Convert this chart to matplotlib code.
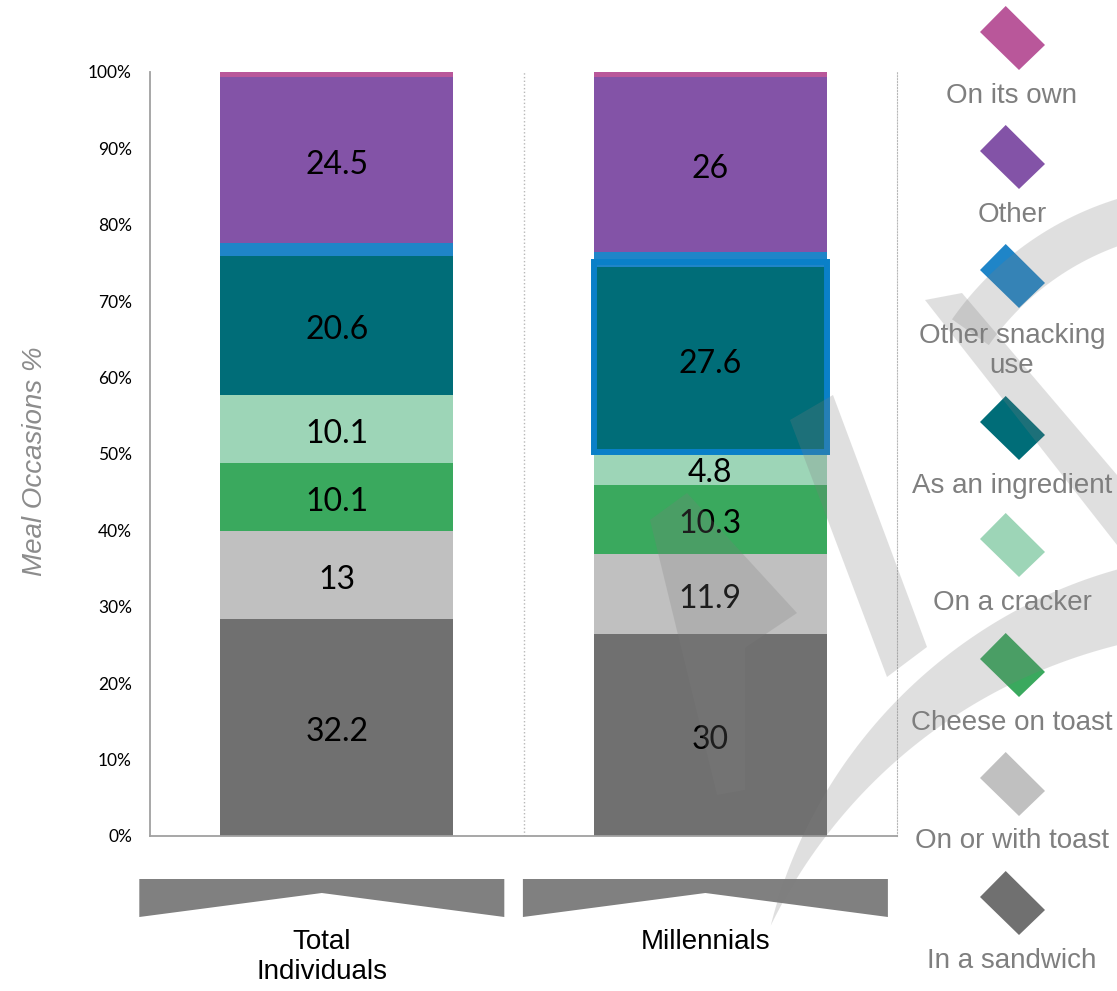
import numpy as np
import matplotlib
matplotlib.use('Agg')
import matplotlib.pyplot as plt
from matplotlib.patches import Polygon, Rectangle

W, H = 1117, 991

groups = ['Total\nIndividuals', 'Millennials']
uses = ['In a sandwich', 'On or with toast', 'Cheese on toast', 'On a cracker',
        'As an ingredient', 'Other snacking use', 'Other', 'On its own']
legend_names = ['In a sandwich', 'On or with toast', 'Cheese on toast', 'On a cracker',
                'As an ingredient', 'Other snacking\nuse', 'Other', 'On its own']
total_vals = [32.2, 13, 10.1, 10.1, 20.6, 2.0, 24.5, 0.8]
millennial_vals = [30, 11.9, 10.3, 4.8, 27.6, 2.1, 26, 0.8]
show_value = [True, True, True, True, True, False, True, False]
colors = ['#707070', '#c0c0c0', '#3aa95e', '#9dd5b7', '#006d78', '#1f85c8', '#8353a7', '#b9579a']
highlight = (1, 'As an ingredient')


def fig_xy(px, py):
    # pixel position measured from the top-left corner -> figure fraction
    return (px / W, 1 - py / H)


fig = plt.figure(figsize=(W / 100, H / 100), dpi=100)
ax = fig.add_axes([150 / W, 1 - 836 / H, 747 / W, 764 / H])

vals = np.array([total_vals, millennial_vals], dtype=float)
shares = vals / vals.sum(axis=1, keepdims=True) * 100
x = np.arange(len(groups))
bw = 0.625
bottom = np.zeros(len(groups))
for j, use in enumerate(uses):
    ax.bar(x, shares[:, j], bw, bottom=bottom, color=colors[j], zorder=2)
    for i in range(len(groups)):
        if show_value[j]:
            ax.text(x[i], bottom[i] + shares[i, j] / 2 - 0.6, f'{vals[i, j]:g}',
                    ha='center', va='center', fontsize=23, family='Lato',
                    color='black', zorder=3)
        if (i, use) == highlight:
            ax.add_patch(Rectangle((x[i] - bw / 2, bottom[i]), bw, shares[i, j] + 0.6,
                                   fill=False, ec='#0a80c8', lw=4.3, zorder=4))
    bottom += shares[:, j]

ax.set_xlim(-0.5, 1.5)
ax.set_ylim(0, 100)
ax.set_xticks([])
ax.set_yticks(np.arange(0, 101, 10))
ax.set_yticklabels([f'{v}%' for v in range(0, 101, 10)], family='Lato', fontsize=12.5)
ax.tick_params(axis='y', length=0, pad=13)
ax.spines['top'].set_visible(False)
for s in ['left', 'bottom']:
    ax.spines[s].set_color('#a0a0a0')
    ax.spines[s].set_linewidth(1.3)
ax.spines['right'].set_linestyle(':')
ax.spines['right'].set_color('#b8b8b8')
ax.axvline(0.5, ls=':', color='#b8b8b8', lw=1, zorder=1)

fig.text(*fig_xy(35, 461), 'Meal Occasions %', rotation=90, style='italic',
         color='#8c8c8c', fontsize=20, ha='center', va='center', family='Liberation Sans')

# group banners under the axis
banner_x = [-0.04, 0.987]
for i, g in enumerate(groups):
    cx = ax.transData.transform((banner_x[i], 0))[0]
    pts = [(cx - 182.5, 879), (cx + 182.5, 879), (cx + 182.5, 917), (cx, 893), (cx - 182.5, 917)]
    fig.add_artist(Polygon([fig_xy(*p) for p in pts], closed=True, fc='#808080', ec='none'))
    fig.text(*fig_xy(cx, 929), g, ha='center', va='top', fontsize=20,
             family='Liberation Sans', linespacing=1.2)

# legend: diamonds with captions, top entry is the top segment
diamond = np.array([(-6.8, -32), (32.5, 7), (6.5, 32), (-32.5, -6)])
diamond_y = [903, 784, 665, 545, 428, 276, 157, 38]
caption_y = [961, 841, 723, 603, 486, 351, 215, 96]
for j in range(len(uses)):
    pts = diamond + (1012.5, diamond_y[j])
    fig.add_artist(Polygon([fig_xy(*p) for p in pts], closed=True, fc=colors[j], ec='none', zorder=5))
    fig.text(*fig_xy(1012, caption_y[j]), legend_names[j], ha='center', va='center',
             fontsize=20, color='#7f7f7f', family='Liberation Sans', linespacing=1.2)

# faint logo in the background
wm = dict(closed=True, fc='#7d7d7d', ec='none', alpha=0.24, zorder=10)
t = np.linspace(0, 1, 80)
a = np.radians(np.linspace(-100, -160, 80))
w = 75 * (1 - t ** 1.5)
outer = np.c_[1250 + (510 + w / 2) * np.cos(a), 1100 + (510 + w / 2) * np.sin(a)]
inner = np.c_[1250 + (510 - w / 2) * np.cos(a), 1100 + (510 - w / 2) * np.sin(a)]
shapes = [np.vstack([outer, inner[::-1]])]
a = np.radians(np.linspace(-70, -145, 60))
outer = np.c_[1210 + 315 * np.cos(a), 500 + 315 * np.sin(a)]
inner = np.c_[1210 + 270 * np.cos(a), 500 + 270 * np.sin(a)]
shapes.append(np.vstack([outer, inner[::-1]]))
shapes.append(np.array([(925, 300), (962, 293), (1117, 475), (1117, 545)]))
shapes.append(np.array([(790, 420), (833, 395), (927, 647), (887, 677)]))
shapes.append(np.array([(650, 520), (687, 493), (797, 613), (745, 648), (745, 790), (717, 795)]))
for s in shapes:
    fig.add_artist(Polygon([fig_xy(*p) for p in s], **wm))

fig.savefig('out.png', dpi=100)
